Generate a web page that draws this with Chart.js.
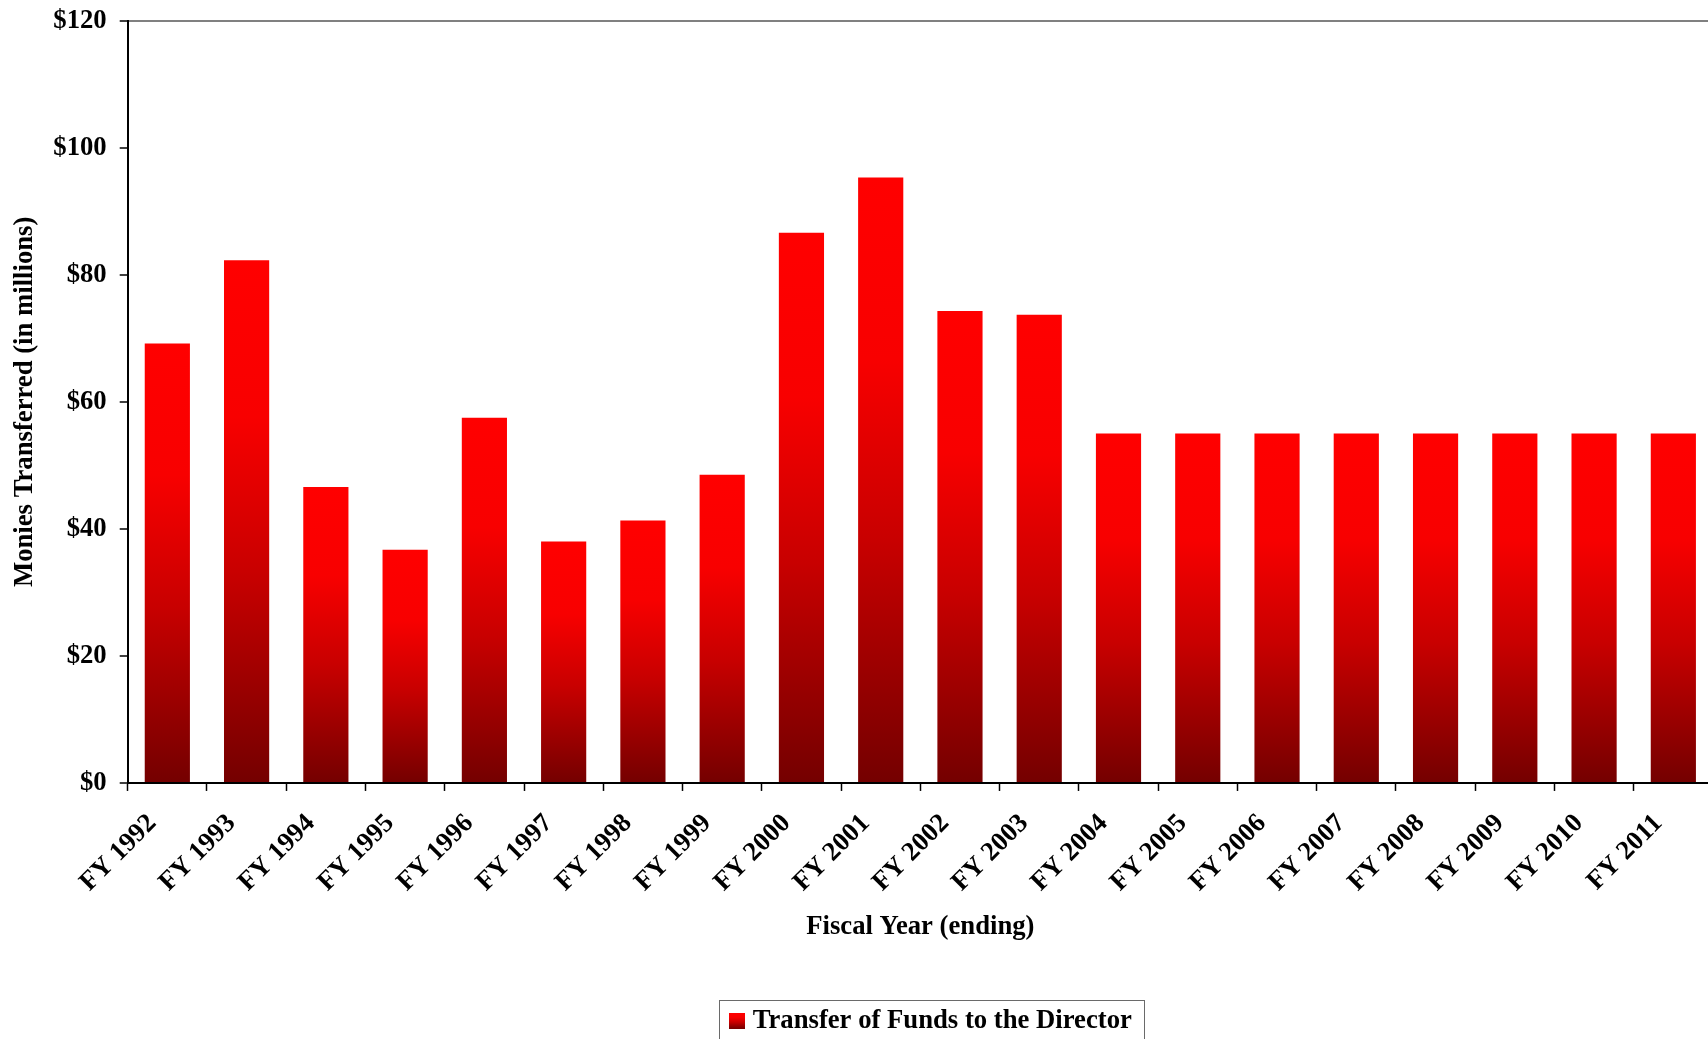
<!DOCTYPE html>
<html><head><meta charset="utf-8">
<script src="https://cdn.jsdelivr.net/npm/chart.js@4.4.1/dist/chart.umd.min.js"></script>
<style>
html,body{margin:0;padding:0;overflow:hidden;background:#fff;}
#wrap{position:relative;width:1713px;height:1044px;}
</style></head><body>
<div id="wrap"><canvas id="c"></canvas></div>
<script>
const categories = ['FY 1992','FY 1993','FY 1994','FY 1995','FY 1996','FY 1997','FY 1998','FY 1999','FY 2000','FY 2001',
  'FY 2002','FY 2003','FY 2004','FY 2005','FY 2006','FY 2007','FY 2008','FY 2009','FY 2010','FY 2011'];
const transferValues = [69.2, 82.3, 46.6, 36.7, 57.5, 38.0, 41.3, 48.5, 86.6, 95.3,
  74.3, 73.7, 55, 55, 55, 55, 55, 55, 55, 55];
const yTickValues = [0, 20, 40, 60, 80, 100, 120];
const seriesLabel = 'Transfer of Funds to the Director';
const xTitle = 'Fiscal Year (ending)';
const yTitle = 'Monies Transferred (in millions)';

const FONT = "'Liberation Serif', 'Times New Roman', serif";
const FS = 26.7;
Chart.defaults.font.family = FONT;
Chart.defaults.font.weight = 'bold';
Chart.defaults.font.size = FS;
Chart.defaults.color = '#000';

function addStops(g) {
  g.addColorStop(0, '#FF0000');
  g.addColorStop(0.3, '#F80000');
  g.addColorStop(0.6, '#C80000');
  g.addColorStop(1, '#740000');
  return g;
}
const swatch = document.createElement('canvas');
swatch.width = 16; swatch.height = 16;
(function(){ const s = swatch.getContext('2d'); s.fillStyle = addStops(s.createLinearGradient(0,0,0,16)); s.fillRect(0,0,16,16); })();

const legendFrame = {
  id: 'legendFrame',
  afterLayout(chart) {
    const L = chart.legend; if (!L || !L.lineWidths) return;
    const itemW = L.lineWidths[0] - L.options.labels.padding;
    const cur = (L.left + L.right - itemW) / 2;
    const d = 735.3 - cur;
    L.left += d; L.right += d;
  },
  afterDraw(chart) {
    const L = chart.legend; if (!L || !L.lineWidths) return;
    const o = L.options.labels;
    const itemW = L.lineWidths[0] - o.padding;
    const curX = (L.left + L.right - itemW) / 2;
    const midY = L.top + o.padding + FS / 2;
    const x0 = Math.round(curX + o.boxWidth / 2 - 8 - 10);
    const x1 = Math.round(curX + itemW + 12.6);
    const y0 = Math.round(midY - 21);
    const c = chart.ctx;
    c.save(); c.strokeStyle = '#6a6a6a'; c.lineWidth = 1;
    c.strokeRect(x0 + 0.5, y0 + 0.5, x1 - x0, 80);
    c.restore();
  }
};

new Chart(document.getElementById('c'), {
  type: 'bar',
  data: {
    labels: categories,
    datasets: [{
      label: seriesLabel,
      data: transferValues,
      backgroundColor: (ctx) => {
        const ch = ctx.chart;
        if (!ch.chartArea || ctx.type !== 'data') return '#E00000';
        const y = ch.scales.y;
        return addStops(ch.ctx.createLinearGradient(0, y.getPixelForValue(ctx.raw), 0, y.getPixelForValue(0)));
      },
      borderWidth: 0,
      categoryPercentage: 1,
      barPercentage: 0.57
    }]
  },
  options: {
    responsive: true,
    maintainAspectRatio: false,
    animation: false,
    layout: { padding: { top: 20.7, left: 0, right: 0, bottom: 0 } },
    plugins: {
      tooltip: { enabled: false },
      legend: {
        position: 'bottom',
        labels: {
          usePointStyle: true,
          pointStyle: swatch,
          boxWidth: 4,
          padding: 60.65,
          font: { size: FS, weight: 'bold', family: FONT },
          color: '#000'
        }
      }
    },
    scales: {
      x: {
        grid: { offset: true, drawOnChartArea: false, drawTicks: true, tickLength: 8, tickColor: '#000', tickWidth: 1.5 },
        border: { display: true, color: '#000', width: 2 },
        ticks: { autoSkip: false, minRotation: 45, maxRotation: 45, labelOffset: -15, padding: 17, color: '#000',
          font: { size: FS, weight: 'bold', family: FONT } },
        title: { display: true, text: xTitle, padding: { top: 4, bottom: 4 }, color: '#000',
          font: { size: FS, weight: 'bold', family: FONT } },
        afterFit: (s) => { s.height = 163.7; }
      },
      y: {
        min: yTickValues[0],
        max: yTickValues[yTickValues.length - 1],
        afterBuildTicks: (s) => { s.ticks = yTickValues.map(v => ({ value: v })); },
        grid: {
          drawOnChartArea: true,
          color: (ctx) => ctx.tick && ctx.tick.value === yTickValues[yTickValues.length - 1] ? '#808080' : 'rgba(0,0,0,0)',
          lineWidth: 2,
          tickLength: 8, tickColor: '#000', tickWidth: 1.5
        },
        border: { display: true, color: '#000', width: 2 },
        ticks: { padding: 13, color: '#000', callback: (v) => '$' + v,
          font: { size: FS, weight: 'bold', family: FONT, lineHeight: 0.5 } },
        title: { display: true, text: yTitle, padding: { top: 9, bottom: 4 }, color: '#000',
          font: { size: FS, weight: 'bold', family: FONT } },
        afterFit: (s) => { s.width = 127.7; }
      }
    }
  },
  plugins: [legendFrame]
});
</script>
</body></html>
